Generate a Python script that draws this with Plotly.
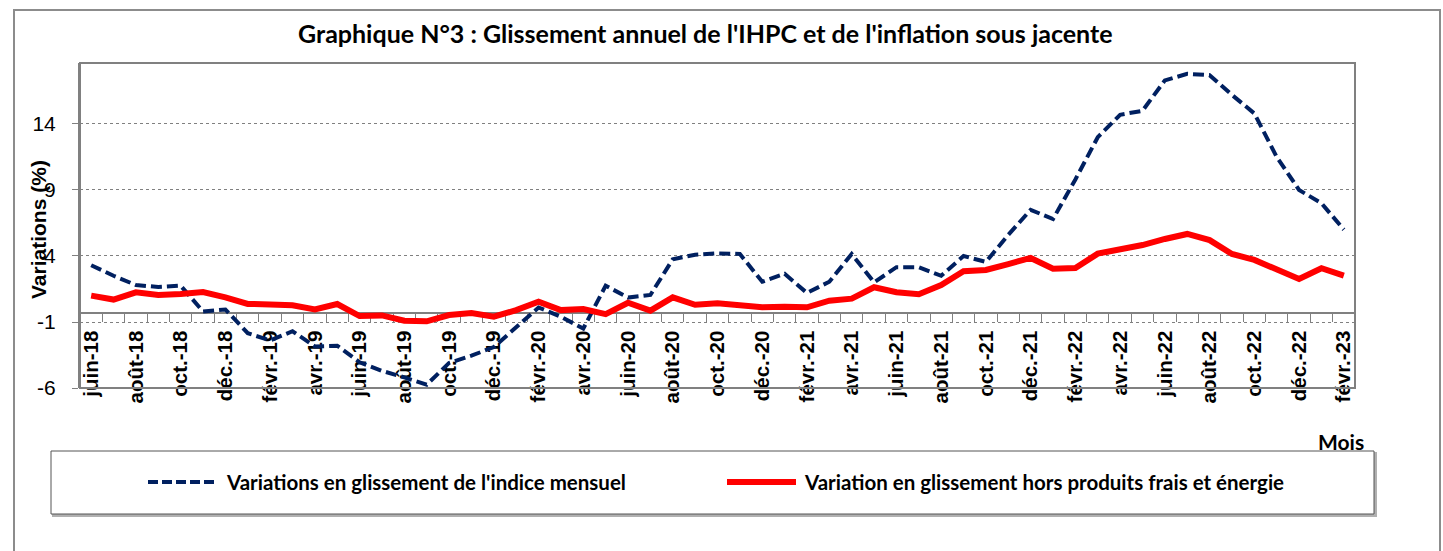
import plotly.graph_objects as go

# ---------------- data ----------------
months = [
    "juin-18", "juil.-18", "août-18", "sept.-18", "oct.-18", "nov.-18", "déc.-18",
    "janv.-19", "févr.-19", "mars-19", "avr.-19", "mai-19", "juin-19", "juil.-19",
    "août-19", "sept.-19", "oct.-19", "nov.-19", "déc.-19",
    "janv.-20", "févr.-20", "mars-20", "avr.-20", "mai-20", "juin-20", "juil.-20",
    "août-20", "sept.-20", "oct.-20", "nov.-20", "déc.-20",
    "janv.-21", "févr.-21", "mars-21", "avr.-21", "mai-21", "juin-21", "juil.-21",
    "août-21", "sept.-21", "oct.-21", "nov.-21", "déc.-21",
    "janv.-22", "févr.-22", "mars-22", "avr.-22", "mai-22", "juin-22", "juil.-22",
    "août-22", "sept.-22", "oct.-22", "nov.-22", "déc.-22",
    "janv.-23", "févr.-23",
]

ihpc = [
    3.3, 2.5, 1.8, 1.65, 1.75, -0.2, -0.05,
    -1.85, -2.4, -1.7, -2.85, -2.8, -4.05, -4.7,
    -5.2, -5.75, -4.1, -3.55, -2.9,
    -1.45, 0.1, -0.6, -1.5, 1.75, 0.85, 1.05,
    3.75, 4.1, 4.2, 4.15, 2.05,
    2.65, 1.2, 2.05, 4.15, 2.0, 3.15, 3.15,
    2.5, 4.0, 3.55, 5.6, 7.5,
    6.8, 9.8, 13.0, 14.7, 15.0, 17.3, 17.8,
    17.7, 16.2, 14.8, 11.5, 9.0,
    8.0, 6.0,
]

sous_jacente = [
    1.0, 0.7, 1.25, 1.05, 1.12, 1.27, 0.87,
    0.37, 0.33, 0.26, -0.05, 0.36, -0.55, -0.5,
    -0.9, -0.95, -0.47, -0.32, -0.6,
    -0.1, 0.54, -0.1, -0.02, -0.4, 0.46, -0.14,
    0.87, 0.3, 0.41, 0.29, 0.11,
    0.16, 0.11, 0.61, 0.77, 1.63, 1.25, 1.1,
    1.8, 2.84, 2.94, 3.39, 3.85,
    3.04, 3.09, 4.18, 4.5, 4.83, 5.29, 5.67,
    5.2, 4.15, 3.7, 2.99, 2.26,
    3.07, 2.51,
]

y_ticks = [-6, -1, 4, 9, 14]
y_tick_labels = ["-6", "-1", "4", "9", "14"]
y_min, y_max = -6, 18.62
x_axis_cross = -0.35

title_text = "Graphique N°3 : Glissement annuel de l'IHPC et de l'inflation sous jacente"
y_title = "Variations (%)"
x_title = "Mois"
name_ihpc = "Variations en glissement de l'indice mensuel"
name_sj = "Variation en glissement hors produits frais et énergie"

# ---------------- figure ----------------
x_idx = list(range(len(months)))
tick_idx = x_idx[::2]
tick_txt = months[::2]
boundaries = [i - 0.5 for i in range(len(months) + 1)]

BLUE = "#002060"
RED = "#FF0000"
GREY = "#808080"
CAL = "Lato"
ARI = "Liberation Sans"

W, H = 1443, 551
ML, MR, MT, MB = 80, 88, 63, 163
PW, PH = W - ML - MR, H - MT - MB


def px(xp):
    return (xp - ML) / PW


def py(yp):
    return (H - MB - yp) / PH


fig = go.Figure()
fig.add_trace(go.Scatter(
    x=x_idx, y=ihpc, mode="lines", name=name_ihpc,
    line=dict(color=BLUE, width=4, dash="11px,5px"),
    showlegend=False, hoverinfo="x+y",
))
fig.add_trace(go.Scatter(
    x=x_idx, y=sous_jacente, mode="lines", name=name_sj,
    line=dict(color=RED, width=6),
    showlegend=False, hoverinfo="x+y",
))

fig.update_layout(
    width=W, height=H,
    margin=dict(l=ML, r=MR, t=MT, b=MB, pad=0),
    paper_bgcolor="white", plot_bgcolor="white",
    showlegend=False,
    xaxis=dict(
        range=[-0.5, len(months) - 0.5],
        anchor="free",
        position=(x_axis_cross - y_min) / (y_max - y_min),
        tickmode="array", tickvals=tick_idx, ticktext=tick_txt,
        tickangle=-90,
        ticks="outside", ticklen=8, tickcolor="rgba(0,0,0,0)",
        tickfont=dict(family=ARI, size=20.5, color="black", weight="bold"),
        minor=dict(tickmode="array", tickvals=boundaries, ticks="outside",
                   ticklen=8, tickcolor=GREY, tickwidth=1, showgrid=False),
        showline=True, linecolor=GREY, linewidth=2,
        showgrid=False, zeroline=False,
        layer="below traces",
        fixedrange=True,
    ),
    yaxis=dict(
        range=[y_min, y_max],
        tickmode="array", tickvals=y_ticks, ticktext=y_tick_labels,
        ticks="outside", ticklen=6, tickcolor=GREY, tickwidth=1,
        tickfont=dict(family=ARI, size=21, color="black"),
        ticklabelstandoff=12,
        showgrid=True, gridcolor=GREY, griddash="dot", gridwidth=1,
        showline=True, linecolor=GREY, linewidth=2,
        zeroline=False,
        fixedrange=True,
    ),
)

shapes = []
# outer chart border
shapes.append(dict(type="rect", xref="paper", yref="paper",
                   x0=px(14), x1=px(1440), y0=py(580), y1=py(10),
                   line=dict(color="#8c8c8c", width=2), layer="below"))
# plot area border
shapes.append(dict(type="rect", xref="paper", yref="paper",
                   x0=0, x1=1, y0=0, y1=1,
                   line=dict(color=GREY, width=2), layer="above"))
# legend box (shadow + box)
shapes.append(dict(type="rect", xref="paper", yref="paper",
                   x0=px(53), x1=px(1376), y0=py(516), y1=py(453),
                   line=dict(color="#b0b0b0", width=2), fillcolor="#b0b0b0",
                   layer="above"))
shapes.append(dict(type="rect", xref="paper", yref="paper",
                   x0=px(51), x1=px(1374), y0=py(514), y1=py(451),
                   line=dict(color="#555555", width=1), fillcolor="white",
                   layer="above"))
# legend samples
shapes.append(dict(type="line", xref="paper", yref="paper",
                   x0=px(148), x1=px(218), y0=py(482), y1=py(482),
                   line=dict(color=BLUE, width=4, dash="10px,4px"), layer="above"))
shapes.append(dict(type="line", xref="paper", yref="paper",
                   x0=px(727), x1=px(796), y0=py(482), y1=py(482),
                   line=dict(color=RED, width=6), layer="above"))
fig.update_layout(shapes=shapes)

annotations = [
    dict(text=title_text, xref="paper", yref="paper", x=px(705.5), y=py(33),
         xanchor="center", yanchor="middle", showarrow=False,
         font=dict(family=CAL, size=25, color="black", weight="bold")),
    dict(text=y_title, xref="paper", yref="paper", x=px(38), y=py(230),
         xanchor="center", yanchor="middle", showarrow=False, textangle=-90,
         font=dict(family=ARI, size=21, color="black", weight="bold")),
    dict(text=x_title, xref="paper", yref="paper", x=px(1366), y=py(441),
         xanchor="right", yanchor="middle", showarrow=False,
         font=dict(family=CAL, size=21, color="black", weight="bold")),
    dict(text=name_ihpc, xref="paper", yref="paper", x=px(224), y=py(482),
         xanchor="left", yanchor="middle", showarrow=False,
         font=dict(family=CAL, size=20.5, color="black", weight="bold")),
    dict(text=name_sj, xref="paper", yref="paper", x=px(802), y=py(482),
         xanchor="left", yanchor="middle", showarrow=False,
         font=dict(family=CAL, size=20.5, color="black", weight="bold")),
]
fig.update_layout(annotations=annotations)

fig.write_html("out.html", config={"displayModeBar": False},
               post_script="document.body.style.margin='0';")
